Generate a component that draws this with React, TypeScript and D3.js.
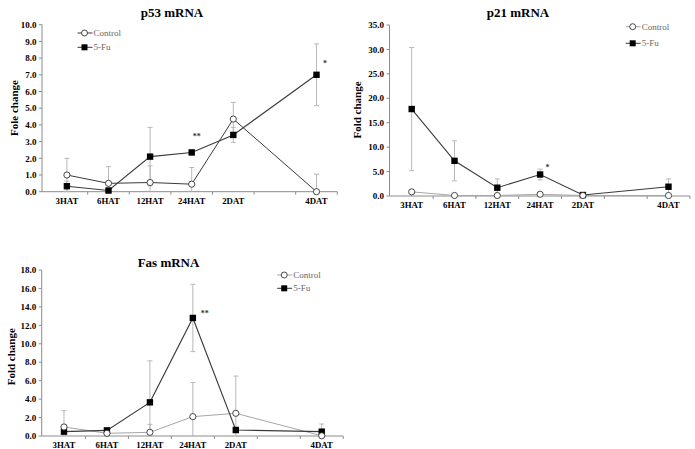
import React from "react";
import * as d3 from "d3";

const categories = ["3HAT", "6HAT", "12HAT", "24HAT", "2DAT", "4DAT"];
const slots = [0, 1, 2, 3, 4, 6];
const seriesNames = ["Control", "5-Fu"];

const p53Control = [1.0, 0.5, 0.55, 0.45, 4.35, 0.0];
const p53ControlErr = [1.0, 1.0, 1.0, 1.0, 1.0, 1.05];
const p53Fu = [0.33, 0.07, 2.1, 2.35, 3.4, 7.0];
const p53FuErr = [0.3, 0.1, 1.75, 0.15, 0.45, 1.85];
const p53Ticks = d3.range(0, 10.01, 1);

const p21Control = [0.85, 0.1, 0.1, 0.35, 0.1, 0.1];
const p21ControlErr = [0.3, 0.1, 0.1, 0.2, 0.1, 0.1];
const p21Fu = [17.8, 7.2, 1.7, 4.4, 0.2, 1.9];
const p21FuErr = [12.6, 4.1, 1.8, 1.1, 0.2, 1.6];
const p21Ticks = d3.range(0, 35.01, 5);

const fasControl = [0.98, 0.29, 0.4, 2.1, 2.46, 0.02];
const fasControlErr = [1.77, 0.2, 0.86, 3.7, 4.04, 1.28];
const fasFu = [0.47, 0.61, 3.65, 12.8, 0.65, 0.47];
const fasFuErr = [0.2, 0.2, 4.5, 3.65, 0.3, 0.2];
const fasTicks = d3.range(0, 18.01, 2);

const FONT = "'Liberation Serif', 'Times New Roman', serif";

type PanelProps = {
  title: string;
  ylabel: string;
  control: number[];
  controlErr: number[];
  fu: number[];
  fuErr: number[];
  ticks: number[];
  ymax: number;
  axisX: number;
  xStart: number;
  xEnd: number;
  yTop: number;
  yBottom: number;
  titleX: number;
  titleY: number;
  ylabelX: number;
  ylabelY: number;
  controlColor: string;
  legendX: number;
  legendY1: number;
  legendY2: number;
  stars: { idx: number; text: string; dx: number; v: number }[];
};

function Panel(p: PanelProps) {
  const x = d3.scaleLinear().domain([-0.5, 6.5]).range([p.xStart, p.xEnd]);
  const y = d3.scaleLinear().domain([0, p.ymax]).range([p.yBottom, p.yTop]);
  const line = d3
    .line<number>()
    .x((_, i) => x(slots[i]))
    .y((d) => y(d));
  const errBars = (vals: number[], errs: number[], key: string) =>
    vals.map((v, i) => {
      const lo = Math.max(0, v - errs[i]);
      const hi = Math.min(p.ymax, v + errs[i]);
      const cx = x(slots[i]);
      return (
        <g key={key + i} stroke="#b8b8b8" strokeWidth={1}>
          <line x1={cx} x2={cx} y1={y(lo)} y2={y(hi)} />
          {v + errs[i] <= p.ymax && <line x1={cx - 2.5} x2={cx + 2.5} y1={y(hi)} y2={y(hi)} />}
          {v - errs[i] >= 0 && <line x1={cx - 2.5} x2={cx + 2.5} y1={y(lo)} y2={y(lo)} />}
        </g>
      );
    });
  const xTicks = d3.range(0.5, 6.6, 1);
  return (
    <g>
      <text x={p.titleX} y={p.titleY} textAnchor="middle" fontFamily={FONT} fontWeight="bold" fontSize={13}>
        {p.title}
      </text>
      <text
        transform={`translate(${p.ylabelX},${p.ylabelY}) rotate(-90)`}
        textAnchor="middle"
        fontFamily={FONT}
        fontWeight="bold"
        fontSize={11}
      >
        {p.ylabel}
      </text>
      {/* y axis */}
      <line x1={p.axisX} x2={p.axisX} y1={p.yTop} y2={p.yBottom} stroke="#8c8c8c" />
      {p.ticks.map((t) => (
        <g key={"yt" + t}>
          <line x1={p.axisX - 3} x2={p.axisX} y1={y(t)} y2={y(t)} stroke="#8c8c8c" />
          <text
            x={p.axisX - 5.5}
            y={y(t) + 3.2}
            textAnchor="end"
            fontFamily={FONT}
            fontWeight="bold"
            fontSize={9}
          >
            {t.toFixed(1)}
          </text>
        </g>
      ))}
      {/* x axis */}
      <line x1={p.axisX} x2={p.xEnd} y1={p.yBottom} y2={p.yBottom} stroke="#8c8c8c" />
      {xTicks.map((t) => (
        <line key={"xt" + t} x1={x(t)} x2={x(t)} y1={p.yBottom} y2={p.yBottom + 3} stroke="#8c8c8c" />
      ))}
      {categories.map((c, i) => (
        <text
          key={c}
          x={x(slots[i])}
          y={p.yBottom + 12}
          textAnchor="middle"
          fontFamily={FONT}
          fontWeight="bold"
          fontSize={8.8}
        >
          {c}
        </text>
      ))}
      {errBars(p.control, p.controlErr, "ce")}
      {errBars(p.fu, p.fuErr, "fe")}
      <path d={line(p.control) || ""} fill="none" stroke={p.controlColor} strokeWidth={1} />
      <path d={line(p.fu) || ""} fill="none" stroke="#3a3a3a" strokeWidth={1.1} />
      {p.fu.map((v, i) => (
        <rect key={"fm" + i} x={x(slots[i]) - 3.2} y={y(v) - 3.2} width={6.4} height={6.4} fill="#000" />
      ))}
      {p.control.map((v, i) => (
        <circle key={"cm" + i} cx={x(slots[i])} cy={y(v)} r={3.1} fill="#fff" stroke="#333" strokeWidth={0.9} />
      ))}
      {p.stars.map((s, i) => (
        <text
          key={"st" + i}
          x={x(slots[s.idx]) + s.dx}
          y={y(s.v) + 5}
          textAnchor="middle"
          fontFamily={FONT}
          fontWeight="bold"
          fontSize={8}
          fill="#333"
        >
          {s.text}
        </text>
      ))}
      {/* legend */}
      <g>
        <line x1={p.legendX - 7} x2={p.legendX + 8} y1={p.legendY1} y2={p.legendY1} stroke={p.controlColor} />
        <circle cx={p.legendX} cy={p.legendY1} r={3} fill="#fff" stroke="#333" strokeWidth={0.9} />
        <text x={p.legendX + 9} y={p.legendY1 + 3} fontFamily={FONT} fontSize={9} fill="#666">
          {seriesNames[0]}
        </text>
        <line x1={p.legendX - 7} x2={p.legendX + 8} y1={p.legendY2} y2={p.legendY2} stroke="#3a3a3a" />
        <rect x={p.legendX - 3} y={p.legendY2 - 3} width={6} height={6} fill="#000" />
        <text x={p.legendX + 9} y={p.legendY2 + 3} fontFamily={FONT} fontSize={9} fill="#666">
          {seriesNames[1]}
        </text>
      </g>
    </g>
  );
}

export default function App() {
  return (
    <svg
      width={695}
      height={449}
      style={{ position: "absolute", left: 0, top: 0, background: "#fff" }}
    >
      <Panel
        title="p53 mRNA"
        ylabel="Fole change"
        control={p53Control}
        controlErr={p53ControlErr}
        fu={p53Fu}
        fuErr={p53FuErr}
        ticks={p53Ticks}
        ymax={10}
        axisX={42}
        xStart={46.1}
        xEnd={337.3}
        yTop={24.7}
        yBottom={191.7}
        titleX={172}
        titleY={17}
        ylabelX={17.5}
        ylabelY={108}
        controlColor="#3a3a3a"
        legendX={84.5}
        legendY1={33}
        legendY2={47.3}
        stars={[
          { idx: 3, text: "**", dx: 5, v: 3.45 },
          { idx: 5, text: "*", dx: 8.5, v: 7.85 },
        ]}
      />
      <Panel
        title="p21 mRNA"
        ylabel="Fold change"
        control={p21Control}
        controlErr={p21ControlErr}
        fu={p21Fu}
        fuErr={p21FuErr}
        ticks={p21Ticks}
        ymax={35}
        axisX={389.5}
        xStart={390.3}
        xEnd={689.9}
        yTop={25}
        yBottom={196}
        titleX={518}
        titleY={16.7}
        ylabelX={360.5}
        ylabelY={110}
        controlColor="#a6a6a6"
        legendX={632.7}
        legendY1={26.7}
        legendY2={43.3}
        stars={[{ idx: 3, text: "*", dx: 7.5, v: 6.3 }]}
      />
      <Panel
        title="Fas mRNA"
        ylabel="Fold change"
        control={fasControl}
        controlErr={fasControlErr}
        fu={fasFu}
        fuErr={fasFuErr}
        ticks={fasTicks}
        ymax={18}
        axisX={41.7}
        xStart={42.5}
        xEnd={343.2}
        yTop={270}
        yBottom={436}
        titleX={168.5}
        titleY={266.5}
        ylabelX={14.5}
        ylabelY={356.7}
        controlColor="#a6a6a6"
        legendX={284.2}
        legendY1={275}
        legendY2={288.3}
        stars={[{ idx: 3, text: "**", dx: 12, v: 13.6 }]}
      />
    </svg>
  );
}
